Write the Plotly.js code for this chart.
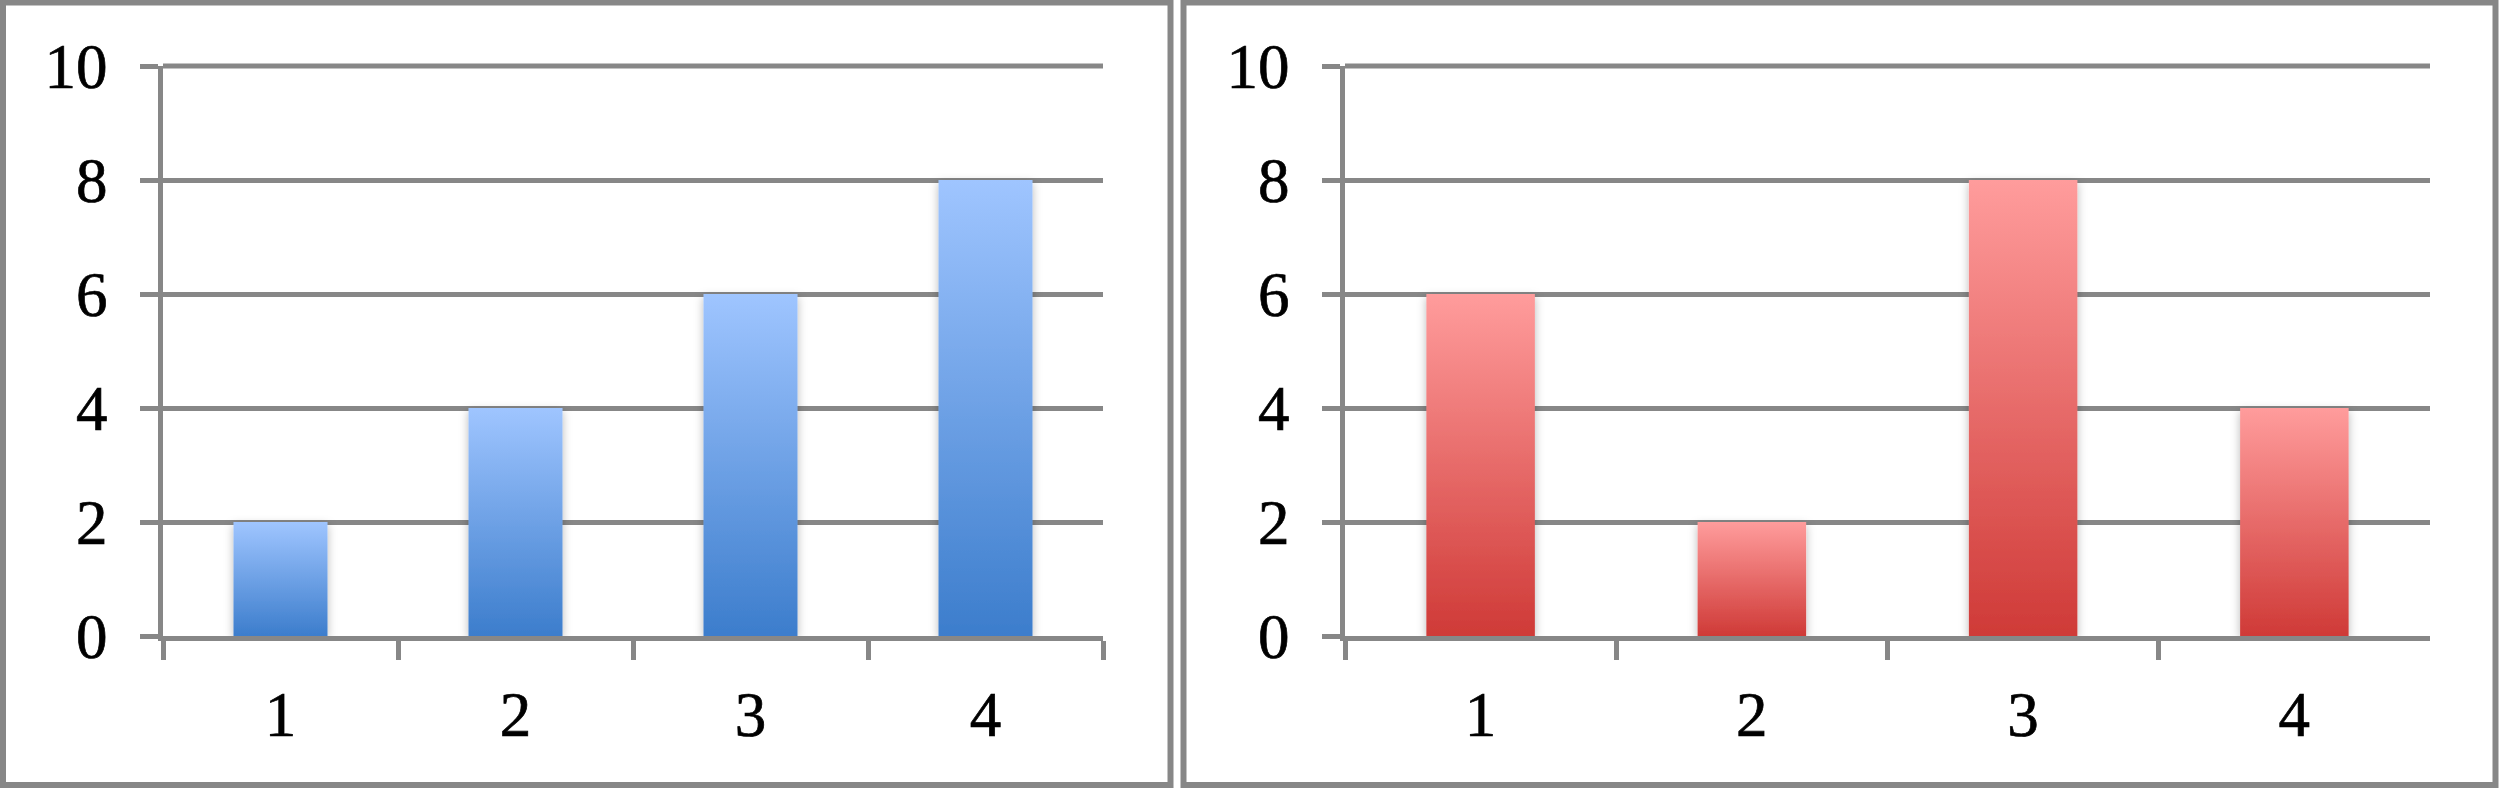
<!DOCTYPE html>
<html>
<head>
<meta charset="utf-8">
<script src="https://cdn.plot.ly/plotly-3.0.1.min.js"></script>
<style>
html,body{margin:0;padding:0;background:#fff;}
#chart{width:2500px;height:788px;}
.xtick text, .ytick text, .x2tick text, .y2tick text{stroke:#000;stroke-width:0.7px;}
</style>
</head>
<body>
<div id="chart"></div>
<script>
// ---- data ----
var categories = ['1', '2', '3', '4'];
var leftValues = [2, 4, 6, 8];
var rightValues = [6, 2, 8, 4];
var yTickValues = [0, 2, 4, 6, 8, 10];
var yTickLabels = ['0', '2', '4', '6', '8', '10'];
var yMax = 10;

var W = 2500, H = 788;
var GRAY = '#878787';
var FONT = {family: '"Liberation Serif", "Times New Roman", serif', size: 63, color: '#000'};

function px(x) { return x / W; }
function py(y) { return 1 - y / H; }

var traces = [
  {type: 'bar', x: categories, y: leftValues, xaxis: 'x', yaxis: 'y',
   marker: {color: '#6f9fe6', line: {width: 0}}, hoverinfo: 'none'},
  {type: 'bar', x: categories, y: rightValues, xaxis: 'x2', yaxis: 'y2',
   marker: {color: '#e86b69', line: {width: 0}}, hoverinfo: 'none'}
];

function xAxis(domain, anchor) {
  return {
    domain: domain, anchor: anchor, type: 'category', range: [-0.5, 3.5],
    showline: true, linecolor: GRAY, linewidth: 5,
    ticks: 'outside', tickson: 'boundaries', ticklen: 19, tickwidth: 5, tickcolor: GRAY,
    showgrid: false, zeroline: false, tickfont: FONT, ticklabelstandoff: 19,
    fixedrange: true
  };
}
function yAxis(domain, anchor) {
  return {
    domain: domain, anchor: anchor, range: [0, yMax],
    tickvals: yTickValues, ticktext: yTickLabels,
    showline: true, linecolor: GRAY, linewidth: 5,
    ticks: 'outside', ticklen: 18, tickwidth: 5, tickcolor: GRAY,
    showgrid: true, gridcolor: GRAY, gridwidth: 5, zeroline: false,
    tickfont: FONT, ticklabelstandoff: 20, fixedrange: true
  };
}

var yTop = 66, yBottom = 636;
var yDom = [py(yBottom), py(yTop)];
var leftDom = [px(163), px(1103)];
var rightDom = [px(1345), px(2430)];
function topGrid(dom) {
  // gridline at the top tick (yMax), which Plotly omits at the range edge
  return {type: 'line', xref: 'paper', yref: 'paper', x0: dom[0], x1: dom[1], y0: yDom[1], y1: yDom[1],
          line: {color: GRAY, width: 5}, layer: 'below'};
}
var layout = {
  width: W, height: H,
  margin: {l: 0, r: 0, t: 0, b: 0, pad: 0},
  paper_bgcolor: '#fff', plot_bgcolor: '#fff',
  showlegend: false, bargap: 0.6,
  xaxis: xAxis(leftDom, 'y'),
  yaxis: yAxis(yDom, 'x'),
  xaxis2: xAxis(rightDom, 'y2'),
  yaxis2: yAxis(yDom, 'x2'),
  shapes: [
    {type: 'rect', xref: 'paper', yref: 'paper', x0: px(3), x1: px(1170.5), y0: py(785), y1: py(2.5),
     line: {color: GRAY, width: 6}, fillcolor: 'rgba(0,0,0,0)', layer: 'below'},
    {type: 'rect', xref: 'paper', yref: 'paper', x0: px(1183.5), x1: px(2495.5), y0: py(785), y1: py(2.5),
     line: {color: GRAY, width: 6}, fillcolor: 'rgba(0,0,0,0)', layer: 'below'},
    topGrid(leftDom),
    topGrid(rightDom)
  ]
};

var gd = document.getElementById('chart');
Plotly.newPlot(gd, traces, layout, {staticPlot: true, displayModeBar: false}).then(function () {
  var svg = gd.querySelector('svg.main-svg');
  var NS = 'http://www.w3.org/2000/svg';
  var defs = svg.querySelector('defs') || svg.insertBefore(document.createElementNS(NS, 'defs'), svg.firstChild);
  function grad(id, top, bottom) {
    var g = document.createElementNS(NS, 'linearGradient');
    g.setAttribute('id', id);
    g.setAttribute('x1', '0'); g.setAttribute('y1', '0');
    g.setAttribute('x2', '0'); g.setAttribute('y2', '1');
    [[0, top], [1, bottom]].forEach(function (s) {
      var st = document.createElementNS(NS, 'stop');
      st.setAttribute('offset', s[0]);
      st.setAttribute('stop-color', s[1]);
      g.appendChild(st);
    });
    defs.appendChild(g);
  }
  grad('gradBlue', '#9fc5ff', '#3c7dcc');
  grad('gradRed', '#ff9c9c', '#cf3a37');
  var f = document.createElementNS(NS, 'filter');
  f.setAttribute('id', 'barShadow');
  f.setAttribute('x', '-30%'); f.setAttribute('y', '-10%');
  f.setAttribute('width', '160%'); f.setAttribute('height', '125%');
  var ds = document.createElementNS(NS, 'feDropShadow');
  ds.setAttribute('dx', '0'); ds.setAttribute('dy', '3');
  ds.setAttribute('stdDeviation', '5');
  ds.setAttribute('flood-color', '#000');
  ds.setAttribute('flood-opacity', '0.28');
  f.appendChild(ds);
  defs.appendChild(f);
  var ids = ['gradBlue', 'gradRed'];
  var tr = gd.querySelectorAll('.barlayer .trace');
  tr.forEach(function (t, i) {
    t.querySelectorAll('path').forEach(function (p) {
      p.style.fill = 'url(#' + ids[i] + ')';
      p.style.filter = 'url(#barShadow)';
    });
  });
});
</script>
</body>
</html>
